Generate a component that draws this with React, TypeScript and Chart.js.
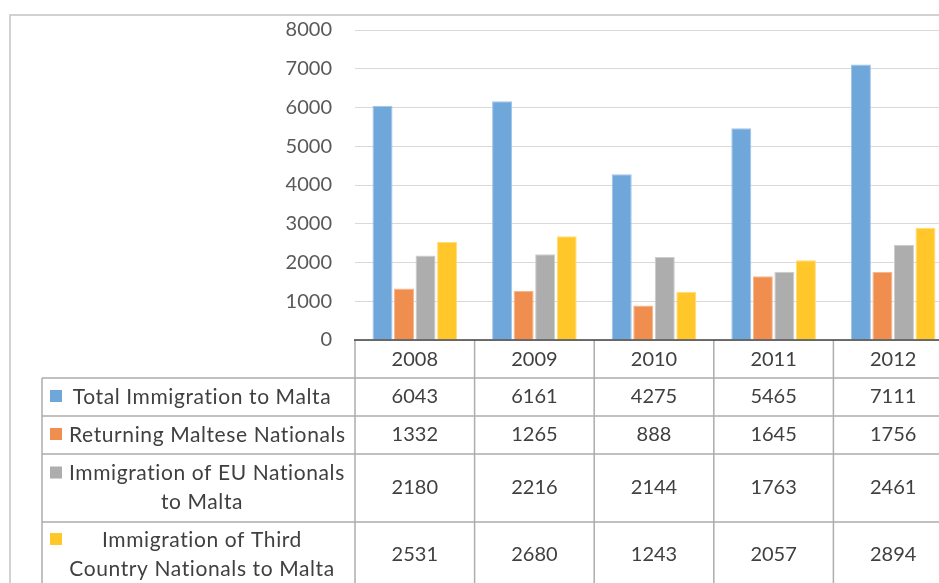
import React, { useEffect, useRef } from 'react';
import { Chart, registerables } from 'chart.js';

Chart.register(...registerables);

const years = ['2008', '2009', '2010', '2011', '2012'];
const totalImmigration = [6043, 6161, 4275, 5465, 7111];
const returningMaltese = [1332, 1265, 888, 1645, 1756];
const euNationals = [2180, 2216, 2144, 1763, 2461];
const thirdCountry = [2531, 2680, 1243, 2057, 2894];
const seriesLabels = [
  'Total Immigration to Malta',
  'Returning Maltese Nationals',
  'Immigration of EU Nationals\nto Malta',
  'Immigration of Third\nCountry Nationals to Malta',
];
const seriesColors = ['#6FA7DB', '#EF8E4F', '#ADADAD', '#FFC72A'];
const seriesBorders = ['#9DC4EA', '#F5B690', '#CDCDCD', '#FFDC7A'];
const yMin = 0;
const yMax = 8000;
const yStep = 1000;

const FONT = 'Lato';
const TEXT = '#404040';

export default function App() {
  const ref = useRef<HTMLCanvasElement>(null);

  useEffect(() => {
    const canvas = ref.current!;
    const seriesValues = [totalImmigration, returningMaltese, euNationals, thirdCountry];

    const tablePlugin = {
      id: 'dataTable',
      afterDraw(chart: any) {
        const ctx = chart.ctx as CanvasRenderingContext2D;
        const area = chart.chartArea;
        const xs = chart.scales.x;
        const n = years.length;
        const cw = (area.right - area.left) / n;
        const colX = Array.from({ length: n + 1 }, (_, i) => area.left + i * cw);
        const axisY = area.bottom;
        const rowTops = [378, 416, 454, 522, 587];
        const labelLeft = 42;
        const labelCenter = 202;
        const bottom = 620;
        ctx.save();
        // outer chart border
        ctx.strokeStyle = '#C4C4C4';
        ctx.lineWidth = 1.5;
        ctx.beginPath();
        ctx.moveTo(10, bottom);
        ctx.lineTo(10, 15);
        ctx.lineTo(chart.width, 15);
        ctx.stroke();
        // table grid
        ctx.strokeStyle = '#ADADAD';
        ctx.lineWidth = 1.5;
        ctx.beginPath();
        colX.forEach((x) => {
          ctx.moveTo(x, axisY);
          ctx.lineTo(x, bottom);
        });
        ctx.moveTo(labelLeft, rowTops[0]);
        ctx.lineTo(labelLeft, bottom);
        rowTops.forEach((y) => {
          ctx.moveTo(labelLeft, y);
          ctx.lineTo(chart.width, y);
        });
        ctx.stroke();
        // axis line
        ctx.strokeStyle = '#404040';
        ctx.lineWidth = 1.5;
        ctx.beginPath();
        ctx.moveTo(area.left - 1, axisY);
        ctx.lineTo(area.right, axisY);
        ctx.stroke();

        // text
        ctx.fillStyle = TEXT;
        ctx.textBaseline = 'middle';
        ctx.textAlign = 'center';
        ctx.font = `20px ${FONT}`;
        years.forEach((y, i) => {
          ctx.fillText(y, xs.getPixelForValue(i), (axisY + rowTops[0]) / 2 + 1);
        });
        seriesValues.forEach((vals, r) => {
          const top = rowTops[r];
          const bot = rowTops[r + 1];
          const cy = (top + bot) / 2;
          ctx.font = `20px ${FONT}`;
          (ctx as any).letterSpacing = '0px';
          vals.forEach((v, i) => {
            ctx.textAlign = 'center';
            ctx.fillText(String(v), xs.getPixelForValue(i), cy);
          });
          ctx.font = `21px ${FONT}`;
          (ctx as any).letterSpacing = '0.6px';
          const lines = seriesLabels[r].split('\n');
          const lh = 29;
          const firstY = cy - ((lines.length - 1) * lh) / 2;
          lines.forEach((line, li) => {
            const ly = firstY + li * lh;
            const w = ctx.measureText(line).width;
            let x = labelCenter - w / 2;
            if (li === 0) x = Math.max(x, 69);
            ctx.textAlign = 'left';
            ctx.fillStyle = TEXT;
            ctx.fillText(line, x, ly);
            if (li === 0) {
              ctx.fillStyle = seriesColors[r];
              ctx.fillRect(50, ly - 7, 12, 12);
              ctx.fillStyle = TEXT;
            }
          });
        });
        ctx.restore();
      },
    };

    const chart = new Chart(canvas, {
      type: 'bar',
      data: {
        labels: years,
        datasets: seriesValues.map((vals, i) => ({
          label: seriesLabels[i].replace('\n', ' '),
          data: vals,
          backgroundColor: seriesColors[i],
          borderColor: seriesBorders[i],
          borderWidth: 1,
          categoryPercentage: 0.72,
          barPercentage: 0.93,
        })),
      },
      options: {
        responsive: false,
        animation: false,
        layout: { padding: { left: 0, right: 7, top: 30, bottom: 243 } },
        plugins: {
          legend: { display: false },
          tooltip: { enabled: false },
        },
        scales: {
          x: { display: false },
          y: {
            min: yMin,
            max: yMax,
            ticks: {
              stepSize: yStep,
              padding: 23,
              color: '#595959',
              font: { family: FONT, size: 20 },
              callback: (v: any) => String(v),
            },
            grid: { color: '#D9D9D9', drawTicks: false, lineWidth: 1 },
            border: { display: false },
            afterFit: (s: any) => {
              s.width = 355;
              s.paddingTop = 0;
              s.paddingBottom = 0;
            },
          },
        },
      },
      plugins: [tablePlugin],
    });
    return () => chart.destroy();
  }, []);

  return (
    <div
      style={{
        position: 'fixed',
        left: 0,
        top: 0,
        width: 939,
        height: 583,
        overflow: 'hidden',
        background: '#fff',
      }}
    >
      <canvas ref={ref} width={960} height={583} style={{ display: 'block' }} />
    </div>
  );
}
